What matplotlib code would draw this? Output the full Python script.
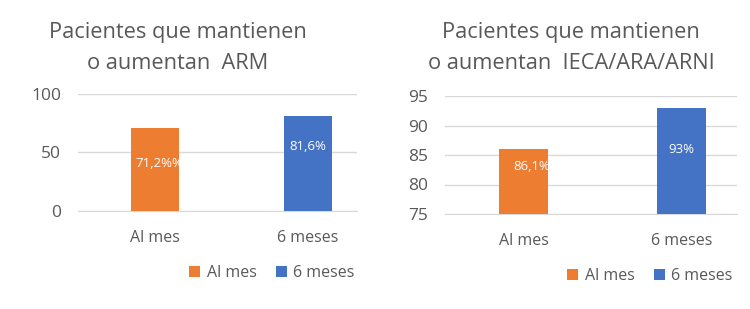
import matplotlib.pyplot as plt

# Data
categorias = ['Al mes', '6 meses']
arm = [71.2, 81.6]
arm_etiquetas = ['71,2%%', '81,6%']
ieca = [86.1, 93.0]
ieca_etiquetas = ['86,1%', '93%']

colores = ['#ED7D31', '#4472C4']
gris_texto = '#595959'
gris_linea = '#D9D9D9'

plt.rcParams['font.family'] = ['Open Sans', 'DejaVu Sans']

fig = plt.figure(figsize=(7.5, 3.09), dpi=100)
fig.patch.set_facecolor('white')


def dibujar(ax, valores, etiquetas, ylim, yticks, xlim, titulo, titulo_xy,
            label_offsets, legend_xy):
    x = range(len(categorias))
    barras = ax.bar(x, valores, width=0.31, color=colores, zorder=3)
    ax.set_ylim(*ylim)
    ax.set_xlim(*xlim)
    ax.set_yticks(yticks)
    ax.set_xticks(list(x))
    ax.set_xticklabels(categorias)
    ax.yaxis.grid(True, color=gris_linea, linewidth=1)
    ax.set_axisbelow(True)
    for s in ['top', 'right', 'left']:
        ax.spines[s].set_visible(False)
    ax.spines['bottom'].set_color(gris_linea)
    ax.tick_params(axis='both', length=0, colors=gris_texto)
    ax.tick_params(axis='x', pad=14, labelsize=11.5)
    ax.tick_params(axis='y', pad=12, labelsize=12.5)

    # data labels inside the bars
    for b, txt, (dx, dy) in zip(barras, etiquetas, label_offsets):
        ax.annotate(txt, (b.get_x() + b.get_width() / 2, b.get_height()),
                    xytext=(dx, dy), textcoords='offset points',
                    ha='center', va='center', color='white', fontsize=9.5)

    fig.text(titulo_xy[0], titulo_xy[1], titulo, ha='center', va='center',
             color=gris_texto, fontsize=15.7, linespacing=1.62)

    fig.legend(barras, categorias, loc='center',
               bbox_to_anchor=legend_xy, ncol=2, frameon=False,
               fontsize=11.5, handlelength=0.7, handleheight=0.7,
               handletextpad=0.4, columnspacing=1.2, labelcolor=gris_texto)


ax1 = fig.add_axes([78 / 750, 1 - 211 / 309, 279 / 750, 117 / 309])
dibujar(ax1, arm, arm_etiquetas, (0, 100), [0, 50, 100], (-0.503, 1.32),
        'Pacientes que mantienen\no aumentan  ARM', (178 / 750, 1 - 48 / 309),
        [(3, -26), (0, -22)], (272 / 750, 1 - 273 / 309))

ax2 = fig.add_axes([445 / 750, 1 - 214 / 309, 292 / 750, 118 / 309])
dibujar(ax2, ieca, ieca_etiquetas, (75, 95), [75, 80, 85, 90, 95], (-0.497, 1.35),
        'Pacientes que mantienen\no aumentan  IECA/ARA/ARNI', (571 / 750, 1 - 48 / 309),
        [(6, -13), (0, -30)], (650 / 750, 1 - 276 / 309))

fig.savefig('out.png', dpi=100, facecolor='white')
